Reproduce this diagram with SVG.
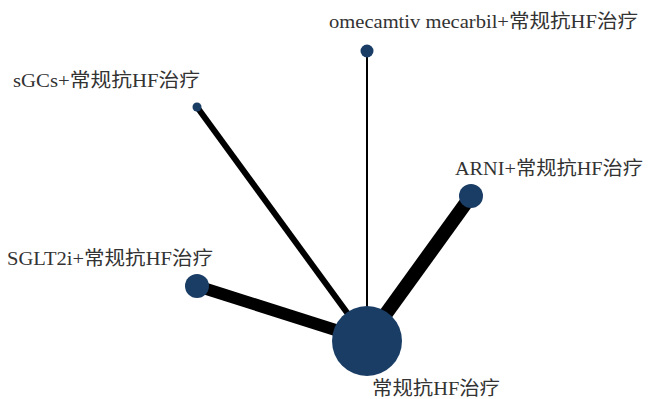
<svg xmlns="http://www.w3.org/2000/svg" width="650" height="399" viewBox="0 0 650 399">
<style>
.lbl{font-family:"Liberation Serif","Noto Sans CJK SC",serif;font-size:19px;fill:#333}
.node{fill:#1a3d66}
.edge{stroke:#000;stroke-linecap:butt}
</style>
<rect width="650" height="399" fill="#fff"/>
<g id="connectors">
<line class="edge" x1="367" y1="51" x2="367" y2="340" stroke-width="2"/>
<line class="edge" x1="197" y1="107" x2="367" y2="340" stroke-width="6"/>
<line class="edge" x1="471" y1="196" x2="367" y2="340" stroke-width="14"/>
<line class="edge" x1="197" y1="286" x2="367" y2="340" stroke-width="12"/>
</g>
<g id="node-omecamtiv">
<circle class="node" cx="367" cy="51" r="6.5"/>
<text class="lbl" x="329" y="28" textLength="309" lengthAdjust="spacingAndGlyphs">omecamtiv mecarbil+常规抗HF治疗</text>
</g>
<g id="node-sgcs">
<circle class="node" cx="197" cy="107" r="4.5"/>
<text class="lbl" x="13" y="87" textLength="187" lengthAdjust="spacingAndGlyphs">sGCs+常规抗HF治疗</text>
</g>
<g id="node-arni">
<circle class="node" cx="471" cy="196" r="12"/>
<text class="lbl" x="455" y="175" textLength="188" lengthAdjust="spacingAndGlyphs">ARNI+常规抗HF治疗</text>
</g>
<g id="node-sglt2i">
<circle class="node" cx="197" cy="286" r="12"/>
<text class="lbl" x="7" y="265" textLength="206" lengthAdjust="spacingAndGlyphs">SGLT2i+常规抗HF治疗</text>
</g>
<g id="node-usual">
<circle class="node" cx="367" cy="341" r="35"/>
<text class="lbl" x="372" y="395" textLength="128" lengthAdjust="spacingAndGlyphs">常规抗HF治疗</text>
</g>
</svg>
